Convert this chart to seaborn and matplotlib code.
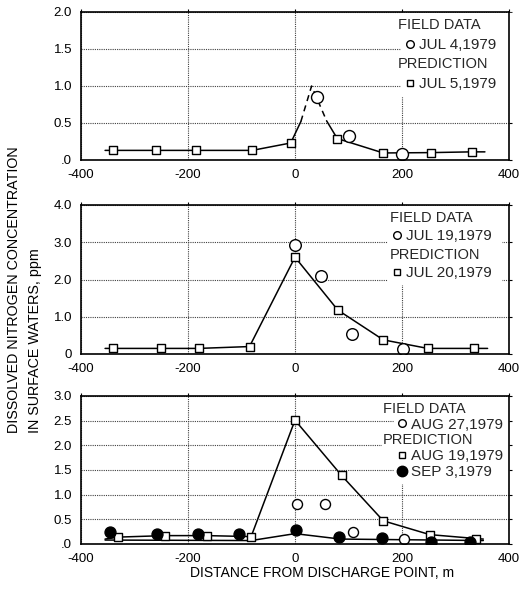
import matplotlib
matplotlib.use("Agg")
import matplotlib.pyplot as plt
from matplotlib.lines import Line2D
import seaborn as sns

# ---- panel 1: Jul 4 field data / Jul 5 prediction ----
jul5_line_x = [-355, -340, -260, -185, -80, -8, 11, 31, 59, 79, 165, 255, 330, 355]
jul5_line_y = [0.13, 0.13, 0.13, 0.13, 0.13, 0.23, 0.52, 1.0, 0.53, 0.29, 0.095, 0.10, 0.11, 0.11]
jul5_sq_x = [-340, -260, -185, -80, -8, 79, 165, 255, 330]
jul5_sq_y = [0.13, 0.13, 0.13, 0.13, 0.23, 0.29, 0.095, 0.10, 0.11]
jul4_x = [41, 100, 200]
jul4_y = [0.85, 0.33, 0.08]

# ---- panel 2: Jul 19 field data / Jul 20 prediction ----
jul20_line_x = [-355, -340, -250, -180, -85, 0, 80, 165, 248, 335, 360]
jul20_line_y = [0.15, 0.15, 0.15, 0.15, 0.2, 2.6, 1.18, 0.38, 0.15, 0.15, 0.15]
jul20_sq_x = [-340, -250, -180, -85, 0, 80, 165, 248, 335]
jul20_sq_y = [0.15, 0.15, 0.15, 0.2, 2.6, 1.18, 0.38, 0.15, 0.15]
jul19_x = [0, 48, 107, 201]
jul19_y = [2.92, 2.1, 0.55, 0.13]

# ---- panel 3: Aug 27 field data / Aug 19 + Sep 3 prediction ----
aug19_line_x = [-355, -330, -243, -165, -82, 0, 87, 165, 252, 339, 352]
aug19_line_y = [0.1, 0.14, 0.17, 0.17, 0.15, 2.51, 1.39, 0.47, 0.19, 0.11, 0.1]
aug19_sq_x = [-330, -243, -165, -82, 0, 87, 165, 252, 339]
aug19_sq_y = [0.14, 0.17, 0.17, 0.15, 2.51, 1.39, 0.47, 0.19, 0.11]
sep3_line_x = [-355, -82, 0, 85, 352]
sep3_line_y = [0.08, 0.07, 0.21, 0.1, 0.07]
sep3_x = [-346, -258, -182, -105, 2, 82, 162, 254, 327]
sep3_y = [0.24, 0.21, 0.21, 0.2, 0.29, 0.15, 0.13, 0.05, 0.05]
aug27_x = [3, 56, 109, 204]
aug27_y = [0.81, 0.81, 0.24, 0.1]

x_ticks = [-400, -200, 0, 200, 400]
y1_ticks = [0, 0.5, 1.0, 1.5, 2.0]
y1_labels = [".0", "0.5", "1.0", "1.5", "2.0"]
y2_ticks = [0, 1, 2, 3, 4]
y2_labels = ["0", "1.0", "2.0", "3.0", "4.0"]
y3_ticks = [0, 0.5, 1.0, 1.5, 2.0, 2.5, 3.0]
y3_labels = [".0", "0.5", "1.0", "1.5", "2.0", "2.5", "3.0"]

sns.set_theme(style="white")
plt.rcParams["font.family"] = ["Liberation Sans", "DejaVu Sans"]

fig = plt.figure(figsize=(5.28, 5.93), dpi=100)
L, W = 81 / 528, 428 / 528
ax1 = fig.add_axes([L, 1 - 160 / 593, W, 148 / 593])
ax2 = fig.add_axes([L, 1 - 354 / 593, W, 149 / 593])
ax3 = fig.add_axes([L, 1 - 544 / 593, W, 148 / 593])


def style_axes(ax, yticks, ylabels, ymax):
    ax.set_xlim(-400, 400)
    ax.set_ylim(0, ymax)
    ax.set_xticks(x_ticks)
    ax.set_xticklabels([str(v) for v in x_ticks])
    ax.set_yticks(yticks)
    ax.set_yticklabels(ylabels)
    ax.grid(True, color="0.25", linestyle=(0, (1, 1)), linewidth=0.8)
    ax.set_axisbelow(True)
    for s in ax.spines.values():
        s.set_color("black")
        s.set_linewidth(1.2)
        s.set_zorder(6)
    ax.tick_params(axis="both", labelsize=9.5, colors="black", pad=4)
    ax.tick_params(axis="x", bottom=False, top=True, direction="out", length=2.5, width=0.8)
    ax.tick_params(axis="y", left=False, right=True, direction="out", length=2.5, width=0.8)
    ax.set_xlabel("")
    ax.set_ylabel("")


def line(ax, x, y, dashed=False):
    sns.lineplot(x=x, y=y, ax=ax, sort=False, estimator=None, color="black",
                 linewidth=1.1, linestyle=(0, (4, 3)) if dashed else "-", zorder=3)


def points(ax, x, y, marker, size, filled=False):
    sns.scatterplot(x=x, y=y, ax=ax, marker=marker, s=size,
                    facecolor="black" if filled else "white",
                    edgecolor="black", linewidth=1.0, zorder=4)


def key(ax, field, pred, spacing, shift, anchor_x):
    blank = Line2D([], [], linestyle="none")
    handles, labels = [blank], ["FIELD DATA"]
    for lab, mk, ms, fill in field:
        handles.append(Line2D([], [], linestyle="none", marker=mk, markersize=ms,
                              markerfacecolor="black" if fill else "white",
                              markeredgecolor="black", markeredgewidth=1.0))
        labels.append(lab)
    handles.append(blank)
    labels.append("PREDICTION")
    for lab, mk, ms, fill in pred:
        handles.append(Line2D([], [], linestyle="none", marker=mk, markersize=ms,
                              markerfacecolor="black" if fill else "white",
                              markeredgecolor="black", markeredgewidth=1.0))
        labels.append(lab)
    leg = ax.legend(handles, labels, loc="upper right", bbox_to_anchor=(anchor_x, 1.0),
                    fontsize=10.5, frameon=True, facecolor="white", edgecolor="white",
                    framealpha=1, fancybox=False, borderpad=0.3, borderaxespad=0.1,
                    handlelength=0.6, handletextpad=0.3, labelspacing=spacing)
    for t in leg.get_texts():
        if t.get_text() in ("FIELD DATA", "PREDICTION"):
            t.set_x(-shift)
            t.set_bbox(dict(facecolor="white", edgecolor="none", pad=1))
        else:
            t.set_fontsize(11)


# panel 1
line(ax1, jul5_line_x[:7], jul5_line_y[:7])
line(ax1, jul5_line_x[6:9], jul5_line_y[6:9], dashed=True)
line(ax1, jul5_line_x[8:], jul5_line_y[8:])
points(ax1, jul5_sq_x, jul5_sq_y, "s", 26)
points(ax1, jul4_x, jul4_y, "o", 74)
style_axes(ax1, y1_ticks, y1_labels, 2.0)
key(ax1, [("JUL 4,1979", "o", 5.5, False)], [("JUL 5,1979", "s", 4, False)], 0.4, 21, 1.014)

# panel 2
line(ax2, jul20_line_x, jul20_line_y)
points(ax2, jul20_sq_x, jul20_sq_y, "s", 26)
points(ax2, jul19_x, jul19_y, "o", 70)
style_axes(ax2, y2_ticks, y2_labels, 4.0)
key(ax2, [("JUL 19,1979", "o", 5.5, False)], [("JUL 20,1979", "s", 4, False)], 0.3, 16, 0.984)

# panel 3
line(ax3, aug19_line_x, aug19_line_y)
line(ax3, sep3_line_x, sep3_line_y)
points(ax3, aug19_sq_x, aug19_sq_y, "s", 26)
points(ax3, sep3_x, sep3_y, "o", 62, filled=True)
points(ax3, aug27_x, aug27_y, "o", 52)
style_axes(ax3, y3_ticks, y3_labels, 3.0)
key(ax3, [("AUG 27,1979", "o", 5.5, False)],
    [("AUG 19,1979", "s", 4, False), ("SEP 3,1979", "o", 7.5, True)], 0.12, 28, 1.0)

fig.text(322 / 528, 1 - 573 / 593, "DISTANCE FROM DISCHARGE POINT, m",
         ha="center", va="center", fontsize=10, color="black")
fig.text(24.5 / 528, 1 - 433 / 593,
         "DISSOLVED NITROGEN CONCENTRATION\nIN SURFACE WATERS, ppm",
         rotation=90, ha="center", va="bottom", multialignment="left",
         fontsize=10.3, linespacing=1.55, color="black")

fig.savefig("out.png", dpi=100)
